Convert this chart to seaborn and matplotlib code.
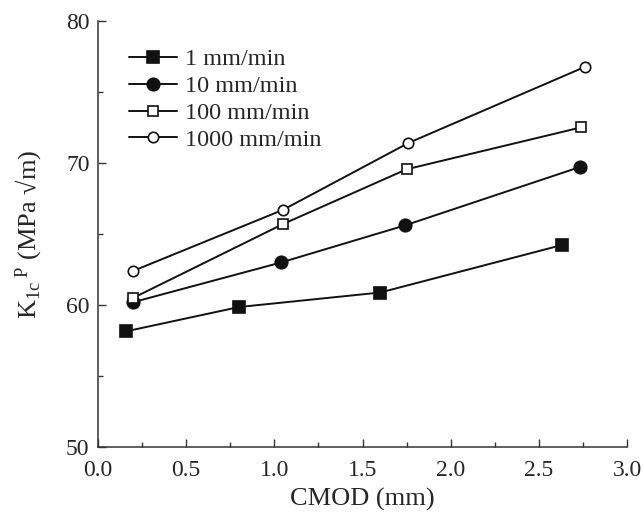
import numpy as np
import pandas as pd
import matplotlib
matplotlib.use("Agg")
import matplotlib.pyplot as plt
from matplotlib.ticker import MultipleLocator, FormatStrFormatter
import seaborn as sns

# data
rates = ["1 mm/min", "10 mm/min", "100 mm/min", "1000 mm/min"]
cmod_1 = [0.16, 0.80, 1.60, 2.63]
k_1 = [58.15, 59.86, 60.88, 64.22]
cmod_10 = [0.20, 1.04, 1.74, 2.73]
k_10 = [60.2, 63.0, 65.6, 69.7]
cmod_100 = [0.20, 1.05, 1.75, 2.74]
k_100 = [60.5, 65.7, 69.55, 72.5]
cmod_1000 = [0.20, 1.05, 1.76, 2.76]
k_1000 = [62.4, 66.7, 71.4, 76.75]

sns.set_style("ticks")
plt.rcParams['font.family'] = 'serif'
plt.rcParams['font.serif'] = ['Liberation Serif', 'DejaVu Serif']
plt.rcParams['mathtext.fontset'] = 'custom'
plt.rcParams['mathtext.rm'] = 'Liberation Serif'
plt.rcParams['mathtext.it'] = 'Liberation Serif:italic'

fig = plt.figure(figsize=(6.44, 5.17), dpi=100)
ax = fig.add_axes([0.152, 0.135, 0.822, 0.825])

styles = [
    dict(marker="s", mfc="#111111", ms=8.5),
    dict(marker="o", mfc="#111111", ms=9),
    dict(marker="s", mfc="white", ms=6.5),
    dict(marker="o", mfc="white", ms=7.5),
]
series = [(cmod_1, k_1), (cmod_10, k_10), (cmod_100, k_100), (cmod_1000, k_1000)]

for name, (xs, ys), st in zip(rates, series, styles):
    df = pd.DataFrame({"CMOD": xs, "K": ys})
    sns.lineplot(data=df, x="CMOD", y="K", ax=ax, color="#111111", lw=1.4,
                 mec="#111111", mew=1.2, label=name, sort=False, **st)

ax.set_xlim(0, 3.0)
ax.set_ylim(50, 80)
ax.xaxis.set_major_locator(MultipleLocator(0.5))
ax.xaxis.set_minor_locator(MultipleLocator(0.25))
ax.yaxis.set_major_locator(MultipleLocator(10))
ax.yaxis.set_minor_locator(MultipleLocator(5))
ax.xaxis.set_major_formatter(FormatStrFormatter("%.1f"))
ax.tick_params(which="major", direction="in", length=6, width=1, labelsize=17, color="#333333")
ax.tick_params(axis="x", which="major", pad=9)
ax.tick_params(axis="y", which="major", pad=6)
ax.tick_params(which="minor", direction="in", length=3.5, width=1, color="#333333")
for s in ["top", "right"]:
    ax.spines[s].set_visible(False)
for s in ["left", "bottom"]:
    ax.spines[s].set_linewidth(1.1)
    ax.spines[s].set_color("#333333")

ax.set_xlabel("CMOD (mm)", fontsize=19, labelpad=5)
ax.set_ylabel(r"K$_{\rm 1c}$$^{\rm \ P}$ (MPa √m)", fontsize=19, labelpad=16)

leg = ax.legend(loc="upper left", bbox_to_anchor=(0.04, 0.958), frameon=False,
                fontsize=17.5, handlelength=2.0, handletextpad=0.3, labelspacing=0.2,
                borderaxespad=0)

fig.savefig("out.png", dpi=100)
